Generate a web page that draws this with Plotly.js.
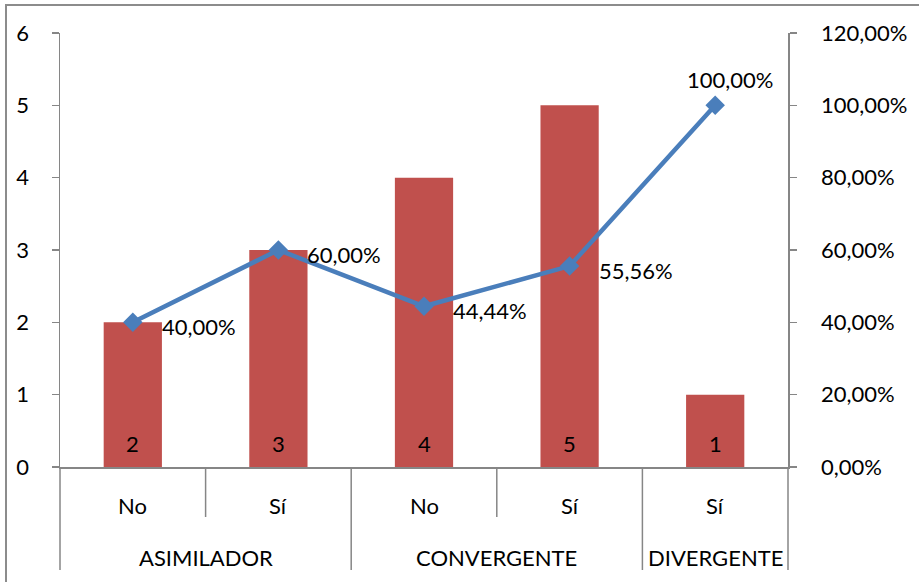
<!DOCTYPE html>
<html>
<head>
<meta charset="utf-8">
<script src="https://cdn.plot.ly/plotly-3.0.1.min.js"></script>
<style>
html,body{margin:0;padding:0;background:#fff;overflow:hidden;}
#wrap{position:relative;width:919px;height:582px;overflow:hidden;}
#frame{position:absolute;left:5px;top:4px;width:1000px;height:1000px;border:2px solid #8c8c8c;box-sizing:border-box;pointer-events:none;z-index:5;}
#chart{position:absolute;left:0;top:0;width:919px;height:582px;}
</style>
</head>
<body>
<div id="wrap"><div id="frame"></div><div id="chart"></div></div>
<script>
var groups = ["ASIMILADOR", "ASIMILADOR", "CONVERGENTE", "CONVERGENTE", "DIVERGENTE"];
var subLabels = ["No", "Sí", "No", "Sí", "Sí"];
var counts = [2, 3, 4, 5, 1];
var percents = [0.40, 0.60, 0.4444, 0.5556, 1.00];
var groupNames = ["ASIMILADOR", "CONVERGENTE", "DIVERGENTE"];

var idx = counts.map(function(_, i){ return i; });
var FONT = "Lato, 'Open Sans', sans-serif";
var AX = "#868686";

var bars = {
  type: "bar", x: idx, y: counts, width: 0.4,
  marker: {color: "#C0504D"},
  cliponaxis: false, hoverinfo: "none"
};
var line = {
  type: "scatter", mode: "lines+markers", x: idx, y: percents, yaxis: "y2",
  line: {color: "#4A7EBB", width: 4.5},
  marker: {symbol: "diamond", size: 15, color: "#4A7EBB"},
  cliponaxis: false, hoverinfo: "none"
};

var annotations = [];
// bar value labels (inside base)
counts.forEach(function(c, i){
  annotations.push({xref: "x", yref: "y", x: i, y: 0, text: String(c), showarrow: false,
    xanchor: "center", yanchor: "middle", yshift: 24,
    font: {family: FONT, size: 22, color: "#000"}});
});
// point labels
percents.forEach(function(p, i){
  var last = (i === percents.length - 1);
  annotations.push({
    xref: "x", yref: "y2", x: i, y: p,
    text: (p*100).toFixed(2).replace(".", ",") + "%",
    showarrow: false,
    xanchor: last ? "center" : "left",
    yanchor: "middle",
    xshift: last ? 15 : 27,
    yshift: last ? 26 : -4,
    font: {family: FONT, size: 22, color: "#000"}
  });
});
// sub labels
subLabels.forEach(function(s, i){
  annotations.push({xref: "x", yref: "paper", x: i, y: 0, text: s, showarrow: false,
    xanchor: "center", yanchor: "middle", yshift: -38,
    font: {family: FONT, size: 22, color: "#000"}});
});
// group labels
groupNames.forEach(function(g){
  var members = [];
  groups.forEach(function(gg, i){ if (gg === g) members.push(i); });
  var c = (members[0] + members[members.length-1]) / 2;
  annotations.push({xref: "x", yref: "paper", x: c, y: 0, text: g, showarrow: false,
    xanchor: "center", yanchor: "middle", yshift: -90,
    font: {family: FONT, size: 22, color: "#000"}});
});

// dividers
var PH = 434;
var shortY = -50 / PH, longY = -103 / PH;
var shapes = [];
shapes.push({type: "line", xref: "paper", yref: "paper", x0: 0, x1: 0, y0: 0, y1: longY, line: {color: AX, width: 1.5}});
shapes.push({type: "line", xref: "paper", yref: "paper", x0: 1, x1: 1, y0: 0, y1: longY, line: {color: AX, width: 1.5}});
for (var i = 1; i < groups.length; i++) {
  var isGroupBoundary = groups[i] !== groups[i-1];
  shapes.push({type: "line", xref: "x", yref: "paper", x0: i - 0.5, x1: i - 0.5, y0: 0,
    y1: isGroupBoundary ? longY : shortY, line: {color: AX, width: 1.5}});
}

var layout = {
  width: 919, height: 582,
  margin: {l: 60, r: 131, t: 33, b: 115},
  paper_bgcolor: "#fff", plot_bgcolor: "#fff",
  showlegend: false,
  separators: ",.",
  font: {family: FONT, size: 22, color: "#000"},
  xaxis: {
    range: [-0.5, 4.5], showticklabels: false, ticks: "", showgrid: false, zeroline: false,
    showline: true, linecolor: AX, linewidth: 1.5, fixedrange: true
  },
  yaxis: {
    range: [0, 6], dtick: 1, tick0: 0, showgrid: false, zeroline: false,
    showline: true, linecolor: AX, linewidth: 1.5,
    ticks: "outside", ticklen: 7, tickwidth: 1.5, tickcolor: AX,
    ticklabelstandoff: 18,
    tickfont: {family: FONT, size: 22, color: "#000"}, fixedrange: true
  },
  yaxis2: {
    range: [0, 1.2], dtick: 0.2, tick0: 0, overlaying: "y", side: "right",
    showgrid: false, zeroline: false,
    showline: true, linecolor: AX, linewidth: 1.5,
    ticks: "outside", ticklen: 7, tickwidth: 1.5, tickcolor: AX,
    tickformat: ".2%", ticklabelstandoff: 20,
    tickfont: {family: FONT, size: 22, color: "#000"}, fixedrange: true
  },
  annotations: annotations,
  shapes: shapes
};

Plotly.newPlot("chart", [bars, line], layout, {displayModeBar: false, staticPlot: true});
</script>
</body>
</html>
